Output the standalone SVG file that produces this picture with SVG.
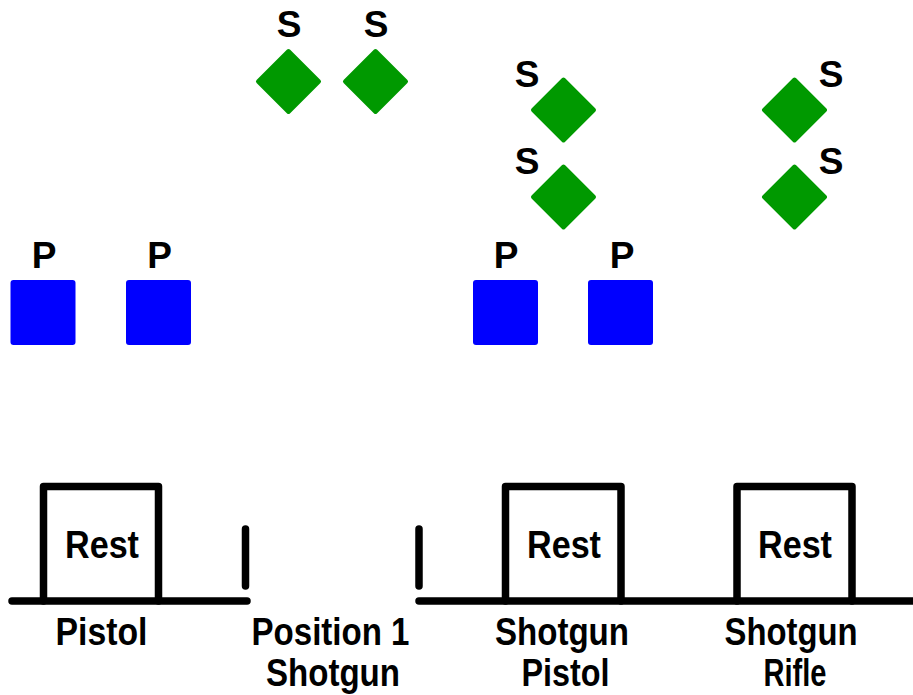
<svg xmlns="http://www.w3.org/2000/svg" width="913" height="695" viewBox="0 0 913 695">
<style>
.lbl{font-family:"Liberation Sans",Arial,sans-serif;font-weight:bold;font-size:37px;fill:#000;text-anchor:middle}
.txt{font-family:"Liberation Sans",Arial,sans-serif;font-weight:bold;font-size:38px;fill:#000;text-anchor:middle}
.sq{fill:#0000ff}
.dia{fill:#009900;stroke:#009900;stroke-width:4;stroke-linejoin:round}
.ln{fill:none;stroke:#000;stroke-width:7.5;stroke-linecap:round;stroke-linejoin:round}
</style>
<defs>
<rect id="sqr" x="-32.5" y="-32.5" width="65" height="65" rx="3"/>
<path id="dmd" d="M0,-30.5 L30.5,0 L0,30.5 L-30.5,0 Z"/>
</defs>
<rect width="913" height="695" fill="#fff"/>
<g id="s1"><use href="#dmd" class="dia" x="288.5" y="81.5"/><text class="lbl" x="289" y="37">S</text></g>
<g id="s2"><use href="#dmd" class="dia" x="375.5" y="81.5"/><text class="lbl" x="376" y="37">S</text></g>
<g id="s3"><use href="#dmd" class="dia" x="563.5" y="110"/><text class="lbl" x="527" y="87">S</text></g>
<g id="s4"><use href="#dmd" class="dia" x="563.5" y="197"/><text class="lbl" x="527" y="174">S</text></g>
<g id="s5"><use href="#dmd" class="dia" x="794.5" y="110"/><text class="lbl" x="831" y="87">S</text></g>
<g id="s6"><use href="#dmd" class="dia" x="794.5" y="197"/><text class="lbl" x="831" y="174">S</text></g>
<g id="p1"><use href="#sqr" class="sq" x="43" y="312.5"/><text class="lbl" x="44" y="268">P</text></g>
<g id="p2"><use href="#sqr" class="sq" x="158.5" y="312.5"/><text class="lbl" x="159.5" y="268">P</text></g>
<g id="p3"><use href="#sqr" class="sq" x="505.5" y="312.5"/><text class="lbl" x="506" y="268">P</text></g>
<g id="p4"><use href="#sqr" class="sq" x="620.5" y="312.5"/><text class="lbl" x="622" y="268">P</text></g>
<g id="connectors">
<path class="ln" d="M12,601 H247"/>
<path class="ln" d="M245.5,529 V586"/>
<path class="ln" d="M419,529 V586"/>
<path class="ln" d="M419,601 H920"/>
</g>
<g id="rest1"><path class="ln" d="M43.5,601 V486.5 H158.5 V601"/><text class="txt" x="102" y="558" textLength="74" lengthAdjust="spacingAndGlyphs">Rest</text></g>
<g id="rest2"><path class="ln" d="M505.5,601 V486.5 H621 V601"/><text class="txt" x="564" y="558" textLength="74" lengthAdjust="spacingAndGlyphs">Rest</text></g>
<g id="rest3"><path class="ln" d="M737,601 V486.5 H852 V601"/><text class="txt" x="795" y="558" textLength="74" lengthAdjust="spacingAndGlyphs">Rest</text></g>
<g id="label-pistol"><text class="txt" x="101.5" y="645" textLength="92" lengthAdjust="spacingAndGlyphs">Pistol</text></g>
<g id="label-pos1"><text class="txt" x="330.5" y="645" textLength="158" lengthAdjust="spacingAndGlyphs">Position 1</text><text class="txt" x="333" y="686" textLength="134" lengthAdjust="spacingAndGlyphs">Shotgun</text></g>
<g id="label-sp"><text class="txt" x="562" y="645" textLength="134" lengthAdjust="spacingAndGlyphs">Shotgun</text><text class="txt" x="565.5" y="686" textLength="88" lengthAdjust="spacingAndGlyphs">Pistol</text></g>
<g id="label-sr"><text class="txt" x="791" y="645" textLength="133" lengthAdjust="spacingAndGlyphs">Shotgun</text><text class="txt" x="795" y="686" textLength="63" lengthAdjust="spacingAndGlyphs">Rifle</text></g>
</svg>
